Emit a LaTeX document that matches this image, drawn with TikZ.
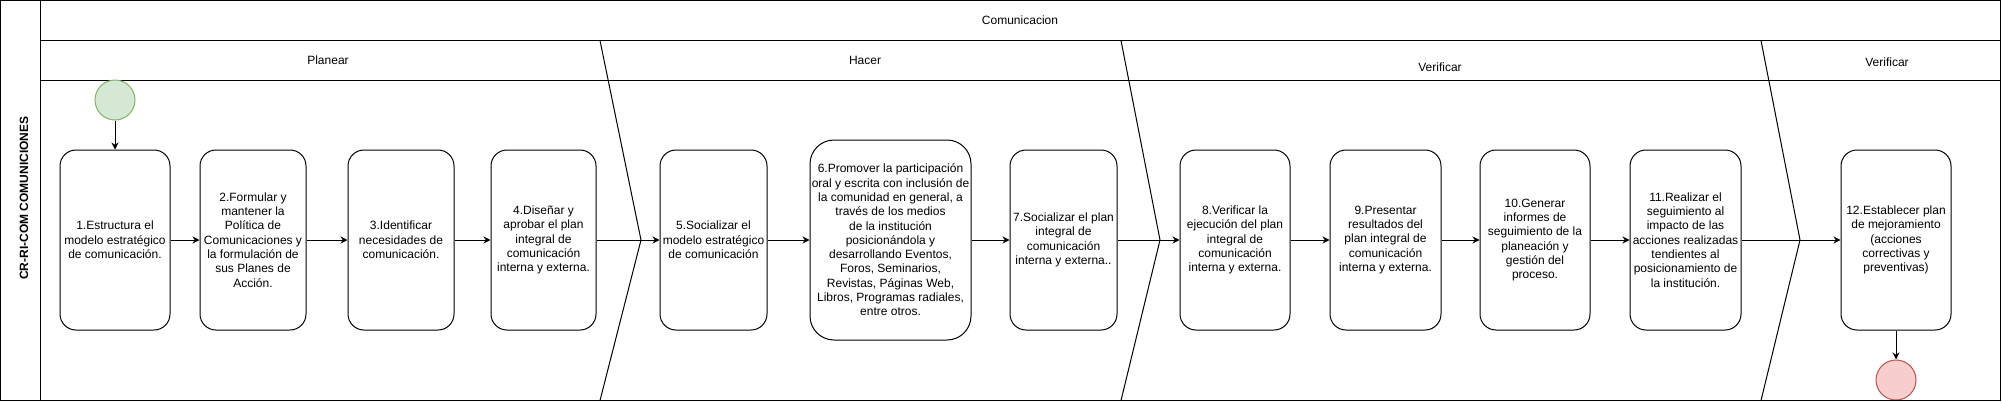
\documentclass[tikz,border=0pt]{standalone}
\usepackage{fontspec}
\setmainfont{Liberation Sans}
\usetikzlibrary{arrows.meta}
\definecolor{startfill}{HTML}{D5E8D4}
\definecolor{startdraw}{HTML}{82B366}
\definecolor{endfill}{HTML}{F8CECC}
\definecolor{enddraw}{HTML}{B85450}
\tikzset{
  stepbox/.style={draw=black, line width=1pt, rounded corners=16pt, align=center,
    minimum height=180pt, inner sep=0pt, font=\fontsize{12}{14.3}\selectfont},
  arr/.style={draw=black, line width=1pt, -{Stealth[length=7pt,width=7pt]}},
  lane/.style={draw=black, line width=1pt},
  lbl/.style={font=\fontsize{12}{14.3}\selectfont, inner sep=0pt},
}
\begin{document}
\begin{tikzpicture}[x=1pt,y=-1pt]
\useasboundingbox (0,0) rectangle (2002,402);
% pool structure
\draw[lane] (40.5,40.5) -- (2000.5,40.5);
\draw[lane] (40.5,80.5) -- (2000.5,80.5);
\draw[lane] (40.5,0.5) -- (40.5,400.5);
% phase separators
\draw[lane] (600,40.5) -- (641,240) -- (600,400.5);
\draw[lane] (1121,40.5) -- (1160,240) -- (1121,400.5);
\draw[lane] (1761,40.5) -- (1800,240) -- (1761,400.5);
% labels
\node[lbl, font=\fontsize{12}{14.3}\selectfont\bfseries, rotate=90] (pool) at (24,198) {CR-RI-COM COMUNICIONES};
\node[lbl] (title) at (1020,20) {Comunicacion};
\node[lbl] (p1) at (328,60) {Planear};
\node[lbl] (p2) at (865,60) {Hacer};
\node[lbl] (p3) at (1440,67) {Verificar};
\node[lbl] (p4) at (1887,62) {Verificar};
% boxes
\node[stepbox, minimum width=110pt] (b1) at (115,240) {1.Estructura el\\modelo estratégico\\de comunicación.};
\node[stepbox, minimum width=106pt] (b2) at (253,240) {2.Formular y\\mantener la\\Política de\\Comunicaciones y\\la formulación de\\sus Planes de\\Acción.};
\node[stepbox, minimum width=106pt] (b3) at (401,240) {3.Identificar\\necesidades de\\comunicación.};
\node[stepbox, minimum width=105pt] (b4) at (543.5,240) {4.Diseñar y\\aprobar el plan\\integral de\\comunicación\\interna y externa.};
\node[stepbox, minimum width=107pt] (b5) at (713.5,240) {5.Socializar el\\modelo estratégico\\de comunicación};
\node[stepbox, minimum width=161pt, minimum height=200pt, rounded corners=24pt] (b6) at (890.5,240) {6.Promover la participación\\oral y escrita con inclusión de\\la comunidad en general, a\\través de los medios\\de la institución\\posicionándola y\\desarrollando Eventos,\\Foros, Seminarios,\\Revistas, Páginas Web,\\Libros, Programas radiales,\\entre otros.};
\node[stepbox, minimum width=107pt] (b7) at (1063.5,240) {7.Socializar el plan\\integral de\\comunicación\\interna y externa..};
\node[stepbox, minimum width=110pt] (b8) at (1235,240) {8.Verificar la\\ejecución del plan\\integral de\\comunicación\\interna y externa.};
\node[stepbox, minimum width=111pt] (b9) at (1385.5,240) {9.Presentar\\resultados del\\plan integral de\\comunicación\\interna y externa.};
\node[stepbox, minimum width=110pt] (b10) at (1535,240) {10.Generar\\informes de\\seguimiento de la\\planeación y\\gestión del\\proceso.};
\node[stepbox, minimum width=111pt] (b11) at (1685.5,240) {11.Realizar el\\seguimiento al\\impacto de las\\acciones realizadas\\tendientes al\\posicionamiento de\\la institución.};
\node[stepbox, minimum width=110pt] (b12) at (1896,240) {12.Establecer plan\\de mejoramiento\\(acciones\\correctivas y\\preventivas)};
% events
\node[circle, draw=startdraw, fill=startfill, line width=1pt, minimum size=40pt, inner sep=0pt] (start) at (115,100) {};
\node[circle, draw=enddraw, fill=endfill, line width=1pt, minimum size=40pt, inner sep=0pt] (end) at (1896,380) {};
% connectors
\draw[arr] (start) -- (b1);
\draw[arr] (b1) -- (b2);
\draw[arr] (b2) -- (b3);
\draw[arr] (b3) -- (b4);
\draw[arr] (b4) -- (b5);
\draw[arr] (b5) -- (b6);
\draw[arr] (b6) -- (b7);
\draw[arr] (b7) -- (b8);
\draw[arr] (b8) -- (b9);
\draw[arr] (b9) -- (b10);
\draw[arr] (b10) -- (b11);
\draw[arr] (b11) -- (b12);
\draw[arr] (b12) -- (end);
% outer frame
\draw[lane] (0.5,0.5) rectangle (2000.5,400.5);
\end{tikzpicture}
\end{document}
